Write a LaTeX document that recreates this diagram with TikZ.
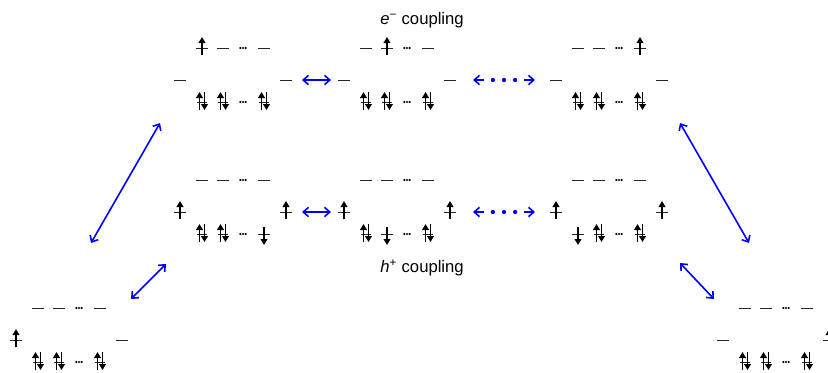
\documentclass[tikz,border=0pt]{standalone}
\usepackage{fontspec}
\setmainfont{Liberation Sans}
\usetikzlibrary{arrows.meta,calc}

\tikzset{
  lvl/.pic={\draw[level] (-6,0) -- (6,0);},
  up/.pic={\draw[level] (-6,0) -- (6,0); \draw[spin] (0,7) -- (0,-11);},
  dn/.pic={\draw[level] (-6,0) -- (6,0); \draw[spin] (0,-7) -- (0,11);},
  ud/.pic={\draw[level] (-5,0) -- (5,0);
           \draw[spin] (-2.5,8) -- (-2.5,-10); \draw[spin] (2.5,-10) -- (2.5,8);},
  gap/.pic={\foreach \i in {-2.6,0,2.6} \fill (\i,0) circle (0.9pt);}
}

% one configuration: origin, left site, bridge (3 upper, 3 lower), right site
\newcommand{\conf}[9]{%
  \begin{scope}[shift={(#1)}]
    \pic at (0,0) {#2};
    \pic at (22,-32) {#3}; \pic at (43,-32) {#4}; \pic at (63,-32) {gap}; \pic at (84,-32) {#5};
    \pic at (22,22) {#6};  \pic at (43,22) {#7};  \pic at (63,22) {gap};  \pic at (84,22) {#8};
    \pic at (106,0) {#9};
  \end{scope}}

\begin{document}
\begin{tikzpicture}[x=0.75pt,y=-0.75pt]
  \tikzstyle{level}=[line width=0.7pt,black!85]
  \tikzstyle{spin}=[line width=1.2pt,-{Triangle[length=4.5pt,width=5pt]}]
  \tikzstyle{couple}=[blue,line width=1.2pt,{Straight Barb[length=4pt,width=7pt]}-{Straight Barb[length=4pt,width=7pt]}]
  \tikzstyle{half}=[blue,line width=1.2pt,-{Straight Barb[length=4pt,width=7pt]}]
  \tikzstyle{label}=[font=\fontsize{12.5}{15}\selectfont,inner sep=0pt]
  \useasboundingbox (0,0) rectangle (828,372);

  % e- coupling
  \conf{180,80}{lvl}{up}{lvl}{lvl}{ud}{ud}{ud}{lvl}
  \conf{344,80}{lvl}{lvl}{up}{lvl}{ud}{ud}{ud}{lvl}
  \conf{556,80}{lvl}{lvl}{lvl}{up}{ud}{ud}{ud}{lvl}
  % h+ coupling
  \conf{180,212}{up}{lvl}{lvl}{lvl}{ud}{ud}{dn}{up}
  \conf{344,212}{up}{lvl}{lvl}{lvl}{ud}{dn}{ud}{up}
  \conf{556,212}{up}{lvl}{lvl}{lvl}{dn}{ud}{ud}{up}
  % end states
  \conf{16,340}{up}{lvl}{lvl}{lvl}{ud}{ud}{ud}{lvl}
  \conf{723,340}{lvl}{lvl}{lvl}{lvl}{ud}{ud}{ud}{up}

  \node[label] (ecpl) at (422,20)  {\textit{e}\textsuperscript{−} coupling};
  \node[label] (hcpl) at (422,268) {\textit{h}\textsuperscript{+} coupling};

  \coordinate (e1) at (302,80);  \coordinate (e2) at (331,80);
  \coordinate (e3) at (473,80);  \coordinate (e4) at (535,80);
  \coordinate (h1) at (302,212); \coordinate (h2) at (331,212);
  \coordinate (h3) at (473,212); \coordinate (h4) at (535,212);
  \coordinate (gl1) at (91,243);  \coordinate (gl2) at (160,123);
  \coordinate (gl3) at (131,299); \coordinate (gl4) at (166,264);
  \coordinate (gr1) at (749,243); \coordinate (gr2) at (680,123);
  \coordinate (gr3) at (714,299); \coordinate (gr4) at (680,263);

  \draw[couple] (e1) -- (e2);
  \draw[couple] (h1) -- (h2);
  \draw[couple] (gl1) -- (gl2);
  \draw[couple] (gl3) -- (gl4);
  \draw[couple] (gr1) -- (gr2);
  \draw[couple] (gr3) -- (gr4);

  % dotted couplings
  \foreach \a/\b in {e3/e4,h3/h4} {
    \draw[half] ($(\a)!0.18!(\b)$) -- (\a);
    \draw[half] ($(\a)!0.82!(\b)$) -- (\b);
    \foreach \t in {0.32,0.5,0.68}
      \fill[blue] ($(\a)!\t!(\b)$) circle (1.6pt);
  }
\end{tikzpicture}
\end{document}
